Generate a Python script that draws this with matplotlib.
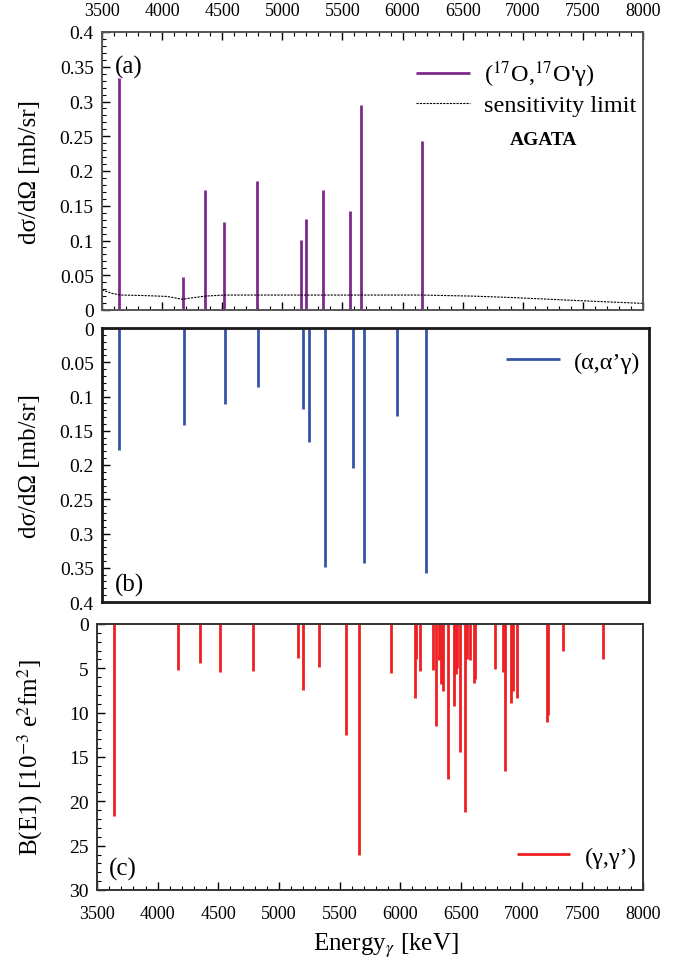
import matplotlib
matplotlib.use("Agg")
import matplotlib.pyplot as plt
from matplotlib.ticker import MultipleLocator, FuncFormatter

plt.rcParams['font.family'] = ['Liberation Serif', 'DejaVu Serif']
plt.rcParams['mathtext.fontset'] = 'stix'

# ---------------- data ----------------
# (a) (17O,17O'g) cross sections [mb/sr]
o17_energy = [3640, 4173, 4354, 4516, 4786, 5157, 5201, 5338, 5561, 5658, 5932, 6162]
o17_sigma = [0.334, 0.048, 0.1725, 0.127, 0.185, 0.101, 0.1306, 0.1725, 0.142, 0.295, 0.001, 0.243]

# sensitivity limit
sens_energy = [3500, 3580, 3660, 3850, 4040, 4170, 4250, 4357, 4516, 5000, 5500, 6160, 6580, 6900, 7216, 7530, 8000]
sens_value = [0.029, 0.024, 0.0215, 0.0208, 0.0195, 0.0155, 0.0175, 0.020, 0.0215, 0.0215, 0.0215, 0.0215, 0.020, 0.018, 0.0155, 0.013, 0.0095]

# (b) (a,a'g) cross sections [mb/sr]
alpha_energy = [3638, 4174, 4513, 4784, 5155, 5200, 5337, 5561, 5656, 5930, 6163]
alpha_sigma = [0.178, 0.1415, 0.1107, 0.0859, 0.118, 0.166, 0.349, 0.204, 0.343, 0.128, 0.357]

# (c) (g,g') B(E1) [1e-3 e^2 fm^2]
gam_energy = [3642, 4169, 4351, 4512, 4783, 5156, 5197, 5332, 5556, 5657, 5925,
              6120, 6132, 6162, 6272, 6294, 6320, 6337, 6352, 6396, 6440, 6456,
              6470, 6494, 6535, 6552, 6575, 6604, 6617, 6782, 6843, 6862, 6908,
              6932, 6959, 7205, 7218, 7338, 7669]
gam_be1 = [21.7, 5.2, 4.4, 5.4, 5.3, 3.8, 7.4, 4.9, 12.5, 26.1, 5.5,
           8.3, 3.9, 5.3, 5.15, 11.5, 4.1, 6.8, 7.5, 17.5, 9.2, 5.6,
           5.0, 14.4, 21.2, 3.95, 4.1, 6.6, 6.2, 5.1, 5.4, 16.6, 8.9,
           7.6, 8.35, 11.1, 10.3, 3.1, 3.9]

xticks = [3500, 4000, 4500, 5000, 5500, 6000, 6500, 7000, 7500, 8000]

purple = '#7E2A8C'
blue = '#3553A8'
red = '#EE2024'

W, H = 696, 970
fig = plt.figure(figsize=(W / 100, H / 100), dpi=100)

def frac(l, t, r, b):
    return [l / W, 1 - b / H, (r - l) / W, (b - t) / H]

axa = fig.add_axes(frac(102, 33, 643, 311))
axb = fig.add_axes(frac(102, 329, 649, 603))
axc = fig.add_axes(frac(97, 625, 643, 891))

gfmt = FuncFormatter(lambda v, p: ('%g' % round(v, 6)))
XTICKFS = 13
YTICKFS = 14
LEGFS = 17.5
PANELFS = 18

for ax in (axa, axb, axc):
    ax.set_xlim(3500, 8000)
    ax.xaxis.set_major_locator(MultipleLocator(500))
    ax.xaxis.set_minor_locator(MultipleLocator(100))
    ax.tick_params(which='both', direction='in', right=False)
    ax.tick_params(axis='x', labelsize=XTICKFS, pad=9)
    ax.tick_params(axis='y', labelsize=YTICKFS, pad=6)
    ax.tick_params(which='major', length=6, width=1)
    ax.tick_params(which='minor', length=3, width=0.8)

# ---- panel a ----
axa.vlines(o17_energy, 0, o17_sigma, color=purple, lw=2.0,
           label=r"($^{17}$O,$^{17}$O'γ)")
axa.plot(sens_energy, sens_value, color='k', lw=0.8, ls=(0, (2, 1)),
         label='sensitivity limit')
axa.set_ylim(0, 0.4)
axa.yaxis.set_major_locator(MultipleLocator(0.05))
axa.yaxis.set_minor_locator(MultipleLocator(0.01))
axa.yaxis.set_major_formatter(gfmt)
axa.tick_params(axis='x', which='both', top=True, bottom=True,
                labeltop=True, labelbottom=False)
axa.text(3605, 0.35, '(a)', fontsize=PANELFS, va='center', ha='left')
axa.text(7170, 0.246, 'AGATA', fontsize=14, fontweight='bold', ha='center', va='center')
axa.legend(loc='upper right', bbox_to_anchor=(1.02, 0.965), frameon=False,
           fontsize=LEGFS, handlelength=2.2, labelspacing=0.2, borderaxespad=0.3,
           handletextpad=0.6)
for s in axa.spines.values():
    s.set_color('#555555')
    s.set_linewidth(1.4)

# ---- panel b ----
axb.vlines(alpha_energy, 0, alpha_sigma, color=blue, lw=2.0, label="(α,α’γ)")
axb.set_ylim(0.4, 0)
axb.yaxis.set_major_locator(MultipleLocator(0.05))
axb.yaxis.set_minor_locator(MultipleLocator(0.01))
axb.yaxis.set_major_formatter(gfmt)
axb.tick_params(axis='x', which='both', top=False, bottom=False,
                labeltop=False, labelbottom=False)
axb.text(3610, 0.374, '(b)', fontsize=PANELFS, va='center', ha='left')
axb.legend(loc='upper right', bbox_to_anchor=(1.016, 0.98), frameon=False,
           fontsize=LEGFS, handlelength=2.2, borderaxespad=0.3, handletextpad=0.6)
for s in axb.spines.values():
    s.set_color('#1a1a1a')
    s.set_linewidth(2.0)

# ---- panel c ----
axc.vlines(gam_energy, 0, gam_be1, color=red, lw=2.0, label="(γ,γ’)")
axc.set_ylim(30, 0)
axc.yaxis.set_major_locator(MultipleLocator(5))
axc.yaxis.set_minor_locator(MultipleLocator(1))
axc.tick_params(axis='x', which='both', top=False, bottom=True,
                labeltop=False, labelbottom=True, pad=11)
axc.text(3600, 27.6, '(c)', fontsize=PANELFS, va='center', ha='left')
axc.legend(loc='lower right', bbox_to_anchor=(1.02, 0.02), frameon=False,
           fontsize=LEGFS, handlelength=2.2, borderaxespad=0.3, handletextpad=0.6)
for s in axc.spines.values():
    s.set_color('#333333')
    s.set_linewidth(1.4)
axc.set_xticks(xticks)

# axis labels
LABFS = 18
fig.text(30 / W, 1 - 172 / H, 'dσ/dΩ [mb/sr]', rotation=90, fontsize=LABFS,
         ha='center', va='center')
fig.text(30 / W, 1 - 466 / H, 'dσ/dΩ [mb/sr]', rotation=90, fontsize=LABFS,
         ha='center', va='center')
fig.text(30 / W, 1 - 758 / H, r'B(E1) [10$^{-3}$ e$^{2}$fm$^{2}$]', rotation=90,
         fontsize=LABFS, ha='center', va='center')
fig.text(386 / W, 1 - 946 / H, r'Energy$_{\gamma}$ [keV]', fontsize=LABFS,
         ha='center', va='center')

fig.savefig('out.png', dpi=100)
